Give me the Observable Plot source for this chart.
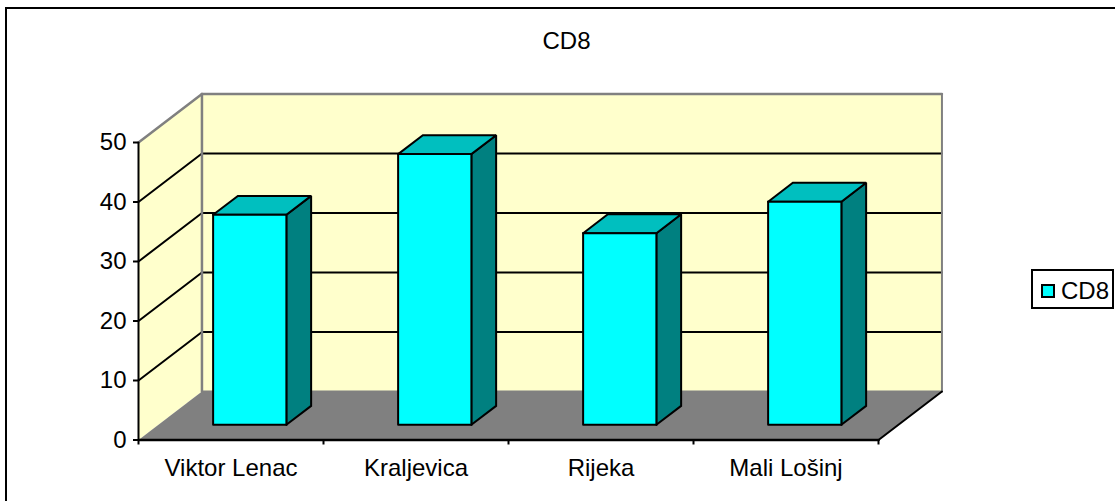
<!DOCTYPE html>
<html>
<head>
<meta charset="utf-8">
<script src="https://cdn.jsdelivr.net/npm/d3@7"></script>
<script src="https://cdn.jsdelivr.net/npm/@observablehq/plot@0.6"></script>
<style>
  html, body { margin: 0; padding: 0; background: #fff; overflow: hidden; }
  #wrap { position: relative; width: 1115px; height: 501px; font-family: "Liberation Sans", Arial, sans-serif; color: #000; overflow: hidden; }
  #frame { position: absolute; left: 5px; top: 7px; width: 1115px; height: 500px; border-left: 2px solid #000; border-top: 2px solid #000; }
  #legend { position: absolute; left: 1031px; top: 269px; width: 79px; height: 36px; border: 2px solid #000; background: #fff; }
  #legend i { position: absolute; left: 8px; top: 13px; width: 10px; height: 10px; border: 2px solid #000; background: #00ffff; }
  #legend span { position: absolute; left: 28px; top: 8px; font-size: 24px; line-height: 24px; }
  svg { position: absolute; left: 0; top: 0; }
</style>
</head>
<body>
<div id="wrap"><div id="frame"></div></div>
<script>
const categories = ["Viktor Lenac", "Kraljevica", "Rijeka", "Mali Lošinj"];
const seriesName = "CD8";
const values = [35.3, 45.5, 32.2, 37.5];
const valueTicks = [0, 10, 20, 30, 40, 50];
const gridValues = [10, 20, 30, 40];

// 3D view: how far one unit of depth shifts a point, in axis units
const depthX = 0.343;
const depthY = 8.15;
const barStart = 0.296, barWidth = 0.396, depthFront = 0.313, depthBack = 0.703;

const P = (c, v, d = 0) => ({x: c + d * depthX, y: v + d * depthY});
const poly = (pts, fill, stroke = "none", strokeWidth = 2) =>
  Plot.line([...pts, pts[0]], {x: "x", y: "y", fill, stroke, strokeWidth, strokeLinejoin: "miter", strokeMiterlimit: 2});
const seg = (a, b, stroke, strokeWidth = 2) =>
  Plot.line([a, b], {x: "x", y: "y", stroke, strokeWidth});

const wallFill = "#ffffcc", floorFill = "#808080", edge = "#808080", ink = "#000000";

const marks = [
  // walls & floor
  poly([P(0,0,1), P(4,0,1), P(4,50,1), P(0,50,1)], wallFill),
  poly([P(0,0,0), P(0,0,1), P(0,50,1), P(0,50,0)], wallFill),
  poly([P(0,0,0), P(4,0,0), P(4,0,1), P(0,0,1)], floorFill),
  // gridlines on back and side wall
  ...gridValues.map(v => seg(P(0,v,1), P(4,v,1), ink)),
  ...gridValues.map(v => seg(P(0,v,0), P(0,v,1), ink)),
  // wall edges
  seg(P(0,50,0), P(0,50,1), edge, 2.5),
  seg(P(0,50,1), P(4,50,1), edge, 2.5),
  seg(P(0,0,1), P(0,50,1), edge, 2.5),
  seg(P(4,0,1), P(4,50,1), edge, 2),
  seg(P(0,0,1), P(4,0,1), edge, 2),
  seg(P(4,0,0), P(4,0,1), ink),
  seg(P(0,0,0), P(0,50,0), ink),
  seg(P(0,0,0), P(4,0,0), ink, 2.5),
  // bars
  ...values.flatMap((v, i) => {
    const l = i + barStart, r = l + barWidth;
    return [
      poly([P(r,0,depthFront), P(r,0,depthBack), P(r,v,depthBack), P(r,v,depthFront)], "#008080", ink),
      poly([P(l,v,depthFront), P(r,v,depthFront), P(r,v,depthBack), P(l,v,depthBack)], "#00bfbf", ink),
      poly([P(l,0,depthFront), P(r,0,depthFront), P(r,v,depthFront), P(l,v,depthFront)], "#00ffff", ink)
    ];
  }),
  // axes
  Plot.axisY({ticks: valueTicks, tickSize: 5, fill: "none", strokeWidth: 2, stroke: ink, label: null}),
  Plot.axisY({ticks: valueTicks, tickSize: 0, tickPadding: 12, tickFormat: d => d, fill: ink, fontSize: 24, label: null}),
  Plot.axisX({ticks: [0,1,2,3,4], tickSize: 5, fill: "none", strokeWidth: 2, stroke: ink, label: null}),
  Plot.axisX({ticks: categories.map((c, i) => i + 0.5), tickSize: 0, tickPadding: 19, tickFormat: d => categories[Math.floor(d)], fill: ink, fontSize: 24, label: null}),
  // title
  Plot.text([seriesName], {frameAnchor: "top", text: d => d, dy: -111, dx: 58, fontSize: 24, fill: ink})
];

const chart = Plot.plot({
  width: 1115, height: 501,
  marginLeft: 138, marginRight: 237, marginTop: 142, marginBottom: 61.5,
  style: {background: "transparent", fontFamily: '"Liberation Sans", Arial, sans-serif', overflow: "visible"},
  x: {domain: [0, 4], axis: null},
  y: {domain: [0, 50], axis: null},
  marks
});
const wrap = document.getElementById("wrap");
wrap.appendChild(chart);
const legend = document.createElement("div");
legend.id = "legend";
legend.innerHTML = "<i></i><span>" + seriesName + "</span>";
wrap.appendChild(legend);
</script>
</body>
</html>
